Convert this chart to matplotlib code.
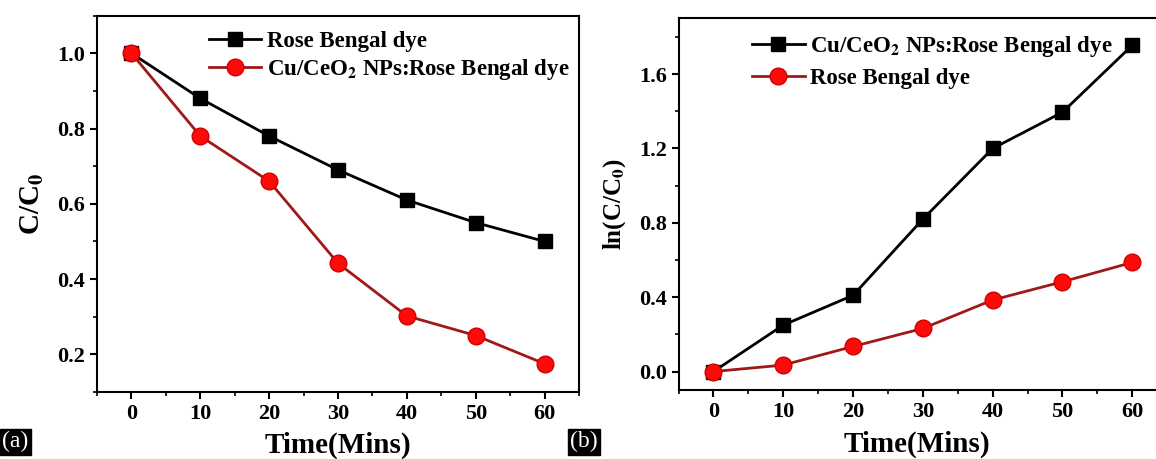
import matplotlib
matplotlib.use("Agg")
import matplotlib.pyplot as plt
from matplotlib.ticker import MultipleLocator

plt.rcParams['font.family'] = ['Liberation Serif', 'DejaVu Serif']
plt.rcParams['font.weight'] = 'bold'
plt.rcParams['mathtext.fontset'] = 'stix'

# data
time = [0, 10, 20, 30, 40, 50, 60]
ratio_dye = [1.0, 0.88, 0.78, 0.69, 0.61, 0.55, 0.50]
ratio_cu = [1.0, 0.78, 0.66, 0.442, 0.302, 0.25, 0.175]
ln_cu = [0.0, 0.25, 0.41, 0.82, 1.20, 1.395, 1.755]
ln_dye = [0.0, 0.035, 0.135, 0.232, 0.385, 0.483, 0.587]

lbl_dye = 'Rose Bengal dye'
lbl_cu = r'Cu/CeO$_\mathbf{2}$ NPs:Rose Bengal dye'

RED_LINE = '#a01818'
RED_FACE = '#ff0a0a'


def style_axes(ax):
    ax.tick_params(axis='both', which='major', direction='out', length=5, width=1.5,
                   labelsize=16, top=False, right=False)
    ax.tick_params(axis='both', which='minor', direction='out', length=3, width=1.2,
                   top=False, right=False)
    for s in ax.spines.values():
        s.set_linewidth(1.5)
    for t in ax.get_xticklabels() + ax.get_yticklabels():
        t.set_fontweight('bold')


fig = plt.figure(figsize=(11.56, 4.59), dpi=100)

# panel (a)
ax1 = fig.add_axes([0.0839, 0.146, 0.417, 0.82])
ax1.plot(time, ratio_dye, '-s', color='black', lw=2, ms=10, label=lbl_dye)
ax1.plot(time, ratio_cu, '-o', color=RED_LINE, lw=2, ms=12,
         mfc=RED_FACE, mec='#d00000', label=lbl_cu)
ax1.set_xlim(-5, 65)
ax1.set_ylim(0.1, 1.1)
ax1.xaxis.set_major_locator(MultipleLocator(10))
ax1.xaxis.set_minor_locator(MultipleLocator(5))
ax1.set_yticks([0.2, 0.4, 0.6, 0.8, 1.0])
ax1.yaxis.set_minor_locator(MultipleLocator(0.1))
ax1.set_xlabel('Time(Mins)', fontsize=21, fontweight='bold', labelpad=6)
ax1.set_ylabel(r'C/C$_\mathbf{0}$', fontsize=21, fontweight='bold', labelpad=8)
style_axes(ax1)
ax1.legend(loc='upper left', bbox_to_anchor=(0.203, 0.995), frameon=False,
           prop={'size': 16.5, 'weight': 'bold'}, handlelength=2.3,
           handletextpad=0.25, labelspacing=0.2, borderaxespad=0.2)

# panel (b)
ax2 = fig.add_axes([0.587, 0.15, 0.413, 0.81])
ax2.plot(time, ln_cu, '-s', color='black', lw=2, ms=10, label=lbl_cu)
ax2.plot(time, ln_dye, '-o', color=RED_LINE, lw=2, ms=12,
         mfc=RED_FACE, mec='#d00000', label=lbl_dye)
ax2.set_xlim(-5, 63.4)
ax2.set_ylim(-0.1, 1.9)
ax2.xaxis.set_major_locator(MultipleLocator(10))
ax2.xaxis.set_minor_locator(MultipleLocator(5))
ax2.set_yticks([0.0, 0.4, 0.8, 1.2, 1.6])
ax2.yaxis.set_minor_locator(MultipleLocator(0.2))
ax2.spines['right'].set_visible(False)
ax2.set_xlabel('Time(Mins)', fontsize=21, fontweight='bold', labelpad=6)
ax2.set_ylabel(r'ln(C/C$_\mathbf{0}$)', fontsize=18, fontweight='bold', labelpad=8)
style_axes(ax2)
ax2.legend(loc='upper left', bbox_to_anchor=(0.125, 0.996), frameon=False,
           prop={'size': 16.5, 'weight': 'bold'}, handlelength=2.3,
           handletextpad=0.25, labelspacing=0.4, borderaxespad=0.2)

# panel tags
box = dict(facecolor='black', edgecolor='black', pad=1.5)
fig.text(0.002, 0.025, '(a)', color='white', fontsize=17, fontweight='normal', bbox=box)
fig.text(0.493, 0.025, '(b)', color='white', fontsize=17, fontweight='normal', bbox=box)

fig.savefig('out.png', dpi=100)
